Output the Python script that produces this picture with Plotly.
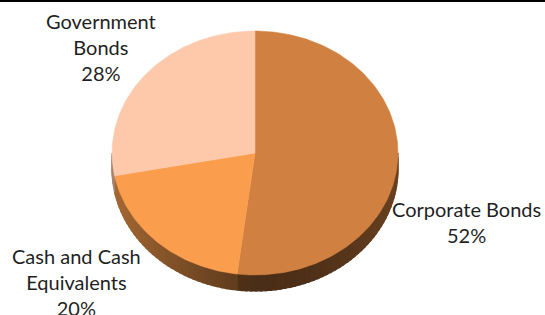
import numpy as np
import plotly.graph_objects as go

# ---------------- data ----------------
categories = ["Corporate Bonds", "Cash and Cash Equivalents", "Government Bonds"]
values = [52, 20, 28]
label_lines = ["Corporate Bonds", "Cash and Cash<br>Equivalents", "Government<br>Bonds"]

# ---------------- style ----------------
W, H = 545, 315
CX_PX, CY_PX = 255, 153          # centre of the pie's top face (pixels)
RX_PX = 143                      # horizontal radius (pixels)
TILT = 122 / 143                 # vertical/horizontal radius ratio
DEPTH = 16 / 143                 # thickness of the pie (in radius units)
face_colors = [(208, 128, 64), (250, 158, 78), (254, 200, 171)]
text_color = "#1f1f1f"
FONT = "Lato"
FONT_SIZE = 20
# label centres in pixels (x, y of the text block centre)
label_pos = [(466, 222), (76, 282), (101, 47)]


def rgb(c, f=1.0):
    return "rgb(%d,%d,%d)" % tuple(max(0, min(255, int(round(v * f)))) for v in c)


def pt(theta_deg):
    t = np.radians(theta_deg)
    return np.sin(t), TILT * np.cos(t)


def shade(theta_deg):
    s = np.sin(np.radians(theta_deg))
    return 0.36 + 0.30 * max(0.0, -s) ** 1.2 + 0.15 * max(0.0, s) ** 2


fig = go.Figure()

total = float(sum(values))
bounds = np.concatenate([[0.0], np.cumsum(values) / total * 360.0])

# ---- side (visible front half: 90..270 deg, clockwise from top) ----
for i in range(len(values)):
    a0 = max(bounds[i], 90.0)
    a1 = min(bounds[i + 1], 270.0)
    if a1 <= a0:
        continue
    n = max(1, int(np.ceil((a1 - a0) / 2.0)))
    edges = np.linspace(a0, a1, n + 1)
    for j in range(n):
        t0, t1 = edges[j], min(edges[j + 1] + 0.6, a1)
        ts = np.linspace(t0, t1, 4)
        xs_top, ys_top = pt(ts)
        xs = list(xs_top) + list(xs_top[::-1]) + [xs_top[0]]
        ys = list(ys_top) + list(ys_top[::-1] - DEPTH) + [ys_top[0]]
        col = rgb(face_colors[i], shade((t0 + t1) / 2))
        fig.add_trace(go.Scatter(
            x=xs, y=ys, mode="lines", fill="toself", fillcolor=col,
            line=dict(color=col, width=1.2), hoverinfo="skip", showlegend=False))

# ---- top face ----
for i, (cat, v) in enumerate(zip(categories, values)):
    ts = np.linspace(bounds[i], bounds[i + 1], max(8, int(bounds[i + 1] - bounds[i]) + 1))
    ax, ay = pt(ts)
    xs = [0.0] + list(ax) + [0.0]
    ys = [0.0] + list(ay) + [0.0]
    col = rgb(face_colors[i])
    fig.add_trace(go.Scatter(
        x=xs, y=ys, mode="lines", fill="toself", fillcolor=col,
        line=dict(color=col, width=0.5), name=cat, hoveron="fills",
        text="%s: %d%%" % (cat, round(v / total * 100)), hoverinfo="text",
        showlegend=False))

# ---- labels ----
for lab, v, (px, py) in zip(label_lines, values, label_pos):
    fig.add_annotation(
        x=px / W, y=1 - py / H, xref="paper", yref="paper",
        text="%s<br>%d%%" % (lab, round(v / total * 100)),
        showarrow=False, xanchor="center", yanchor="middle", align="center",
        font=dict(family=FONT, size=FONT_SIZE, color=text_color))

# thin black bar at the top edge
fig.add_shape(type="rect", xref="paper", yref="paper", x0=0, x1=1,
              y0=1 - 2 / H, y1=1, fillcolor="black", line=dict(width=0))

fig.update_layout(
    width=W, height=H, margin=dict(l=0, r=0, t=0, b=0),
    paper_bgcolor="white", plot_bgcolor="white", showlegend=False,
    xaxis=dict(range=[-CX_PX / RX_PX, (W - CX_PX) / RX_PX], visible=False, fixedrange=True),
    yaxis=dict(range=[-(H - CY_PX) / RX_PX, CY_PX / RX_PX], visible=False, fixedrange=True),
)

fig.write_html("out.html", config={"displayModeBar": False},
               post_script="document.body.style.margin='0';document.body.style.overflow='hidden';")
